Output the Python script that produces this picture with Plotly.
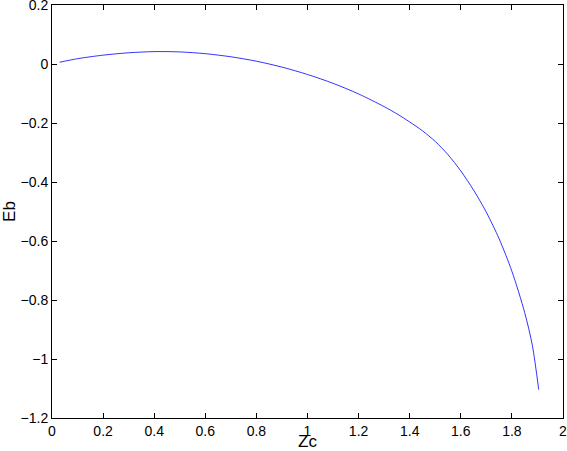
import plotly.graph_objects as go

# Zc vs Eb
zc = [0.03, 0.1, 0.2, 0.3, 0.4, 0.5, 0.6, 0.7, 0.8, 0.9, 1.0, 1.1, 1.2,
      1.3, 1.35, 1.4, 1.45, 1.5, 1.55, 1.6, 1.65, 1.7, 1.75, 1.8, 1.85, 1.88, 1.905]
eb = [0.006, 0.018, 0.030, 0.038, 0.042, 0.041, 0.035, 0.0245, 0.0095, -0.0105,
      -0.0355, -0.0655, -0.1015, -0.1445, -0.169, -0.1965, -0.2265, -0.2625,
      -0.3075, -0.3625, -0.4275, -0.5025, -0.5925, -0.7025, -0.8425, -0.9535, -1.104]

x_ticks = [0, 0.2, 0.4, 0.6, 0.8, 1, 1.2, 1.4, 1.6, 1.8, 2]
y_ticks = [-1.2, -1, -0.8, -0.6, -0.4, -0.2, 0, 0.2]
x_range = [0, 2]
y_range = [-1.2, 0.2]

fig = go.Figure()
fig.add_trace(go.Scatter(
    x=zc,
    y=eb,
    mode="lines",
    line=dict(color="#0000ff", width=0.8, shape="spline", smoothing=0.8),
    showlegend=False,
    hoverinfo="skip",
))
# same data on the overlay axes, invisible: only there so x2/y2 get drawn
fig.add_trace(go.Scatter(
    x=zc,
    y=eb,
    xaxis="x2",
    yaxis="y2",
    mode="lines",
    line=dict(color="rgba(0,0,0,0)", width=0),
    showlegend=False,
    hoverinfo="skip",
))

axis_style = dict(
    showline=True,
    linecolor="black",
    linewidth=1,
    mirror="ticks",
    ticks="inside",
    ticklen=5,
    tickwidth=1,
    tickcolor="black",
    showgrid=False,
    zeroline=False,
    automargin=False,
    ticklabeloverflow="allow",
    tickfont=dict(size=14, color="black"),
)

fig.update_layout(
    width=567,
    height=451,
    margin=dict(l=52, r=4, t=5, b=33),
    paper_bgcolor="white",
    plot_bgcolor="white",
    font=dict(family="Liberation Sans, Arial, sans-serif", size=14, color="black"),
    xaxis=dict(range=x_range, tickvals=x_ticks, ticktext=[f"{v:g}" for v in x_ticks],
               title=dict(text="Zc", standoff=4), **axis_style),
    yaxis=dict(range=y_range, tickvals=y_ticks,
               ticktext=[f"{v:g}".replace("-", "\u2212") for v in y_ticks],
               title=dict(text="Eb", standoff=4), **axis_style),
    # overlay axes on the opposite sides; their mirrored ticks give the
    # inside ticks along the bottom and left edges
    xaxis2=dict(range=x_range, tickvals=x_ticks, overlaying="x", side="top",
                anchor="y2", showticklabels=False, **axis_style),
    yaxis2=dict(range=y_range, tickvals=y_ticks, overlaying="y", side="right",
                anchor="x2", showticklabels=False, **axis_style),
)

# the page's default body margin would shift the chart by 8 px
fig.write_html("out.html", config={"displayModeBar": False},
               post_script="document.body.style.margin='0px';")
